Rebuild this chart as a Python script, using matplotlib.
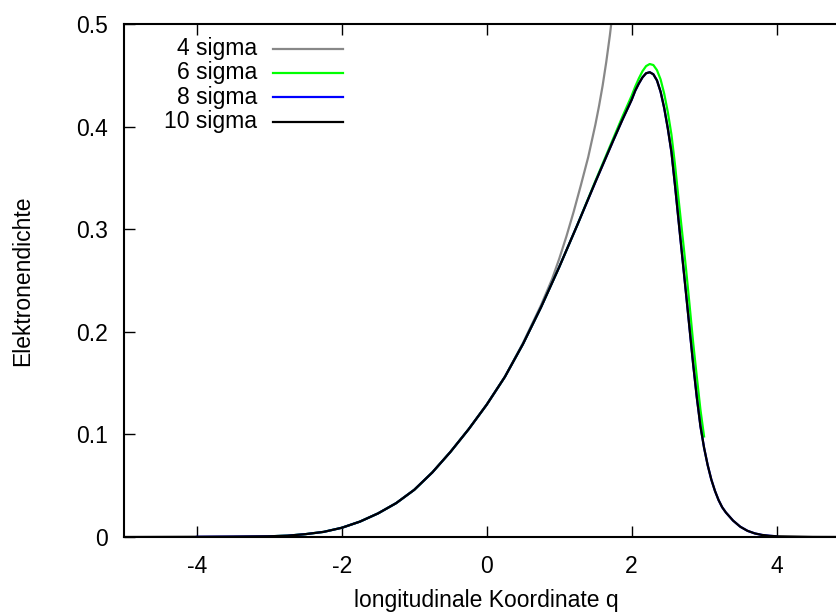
import numpy as np
import matplotlib
matplotlib.use("Agg")
import matplotlib.pyplot as plt

plt.rcParams['font.family'] = ['Liberation Sans', 'DejaVu Sans']
plt.rcParams['axes.unicode_minus'] = False

# Elektronendichte fuer verschiedene Abschneideradien (in sigma)
q_10 = [-5.0, -4.5, -4.0, -3.5, -3.0, -2.75, -2.5, -2.25, -2.0, -1.75, -1.5, -1.25,
        -1.0, -0.75, -0.5, -0.25, 0.0, 0.25, 0.5, 0.75, 1.0, 1.25, 1.5, 1.75,
        1.875, 2.0, 2.05, 2.1, 2.15, 2.2, 2.25, 2.3, 2.35, 2.4, 2.45, 2.5, 2.55,
        2.6, 2.65, 2.75, 2.85, 2.9, 2.95, 3.0, 3.05, 3.1, 3.15, 3.2, 3.25, 3.3,
        3.4, 3.5, 3.6, 3.7, 3.8, 3.9, 4.0, 4.5, 5.0]
rho_10 = [0.0, 0.0001, 0.0002, 0.0004, 0.0007, 0.0013, 0.0028, 0.005, 0.009, 0.015,
          0.023, 0.033, 0.046, 0.063, 0.083, 0.105, 0.129, 0.156, 0.188, 0.224,
          0.263, 0.304, 0.346, 0.387, 0.407, 0.426, 0.435, 0.442, 0.448, 0.452,
          0.453, 0.451, 0.445, 0.434, 0.418, 0.398, 0.375, 0.342, 0.307, 0.238,
          0.168, 0.136, 0.108, 0.087, 0.070, 0.056, 0.045, 0.036, 0.029, 0.024,
          0.016, 0.010, 0.006, 0.0035, 0.002, 0.0012, 0.0007, 0.0001, 0.0]

q_8 = [-4.0, -3.5, -3.0, -2.75, -2.5, -2.25, -2.0, -1.75, -1.5, -1.25,
       -1.0, -0.75, -0.5, -0.25, 0.0, 0.25, 0.5, 0.75, 1.0, 1.25, 1.5, 1.75,
       1.875, 2.0, 2.05, 2.1, 2.15, 2.2, 2.25, 2.3, 2.35, 2.4, 2.45, 2.5, 2.55,
       2.6, 2.65, 2.75, 2.85, 2.9, 2.95, 3.0, 3.05, 3.1, 3.15, 3.2, 3.25, 3.3,
       3.4, 3.5, 3.6, 3.7, 3.8, 3.9, 4.0]
rho_8 = [0.0002, 0.0004, 0.0007, 0.0013, 0.0028, 0.005, 0.009, 0.015,
         0.023, 0.033, 0.046, 0.063, 0.083, 0.105, 0.129, 0.156, 0.188, 0.224,
         0.263, 0.304, 0.346, 0.387, 0.407, 0.426, 0.435, 0.442, 0.448, 0.452,
         0.453, 0.451, 0.445, 0.434, 0.418, 0.398, 0.375, 0.342, 0.307, 0.238,
         0.168, 0.136, 0.108, 0.087, 0.070, 0.056, 0.045, 0.036, 0.029, 0.024,
         0.016, 0.010, 0.006, 0.0035, 0.002, 0.0012, 0.0007]

q_6 = [-3.0, -2.75, -2.5, -2.25, -2.0, -1.75, -1.5, -1.25, -1.0, -0.75, -0.5,
       -0.25, 0.0, 0.25, 0.5, 0.75, 1.0, 1.25, 1.5, 1.75, 1.875, 2.0, 2.05, 2.1,
       2.15, 2.2, 2.25, 2.3, 2.35, 2.4, 2.45, 2.5, 2.55, 2.6, 2.65, 2.7, 2.75,
       2.8, 2.85, 2.9, 2.95, 3.0]
rho_6 = [0.0007, 0.0013, 0.0028, 0.005, 0.009, 0.015, 0.023, 0.033, 0.046, 0.063,
         0.083, 0.105, 0.129, 0.156, 0.188, 0.224, 0.263, 0.304, 0.347, 0.389,
         0.410, 0.430, 0.439, 0.447, 0.454, 0.459, 0.461, 0.460, 0.455, 0.446,
         0.432, 0.414, 0.392, 0.362, 0.328, 0.295, 0.262, 0.226, 0.189, 0.156,
         0.124, 0.098]

q_4 = [-2.0, -1.75, -1.5, -1.25, -1.0, -0.75, -0.5, -0.25, 0.0, 0.25, 0.5,
       0.75, 0.9, 1.0, 1.1, 1.2, 1.3, 1.4, 1.5, 1.55, 1.6, 1.65, 1.7, 1.75, 1.8]
rho_4 = [0.009, 0.015, 0.023, 0.033, 0.046, 0.063, 0.083, 0.105, 0.129, 0.156,
         0.189, 0.226, 0.251, 0.271, 0.293, 0.317, 0.343, 0.370, 0.402, 0.420,
         0.440, 0.463, 0.489, 0.519, 0.553]

labels = ['4 sigma', '6 sigma', '8 sigma', '10 sigma']
colors = ['#888888', '#00ff00', '#0000ff', '#000000']
fs = 16.5

fig = plt.figure(figsize=(8.37, 6.14), dpi=100)
ax = fig.add_axes([0.1487, 0.1254, 0.8656, 0.8355])

curves = [(q_4, rho_4), (q_6, rho_6), (q_8, rho_8), (q_10, rho_10)]
for (q, rho), c in zip(curves, colors):
    ax.plot(q, rho, color=c, lw=1.6, solid_joinstyle='round')

ax.set_xlim(-5, 5)
ax.set_ylim(0, 0.5)
ax.set_xticks([-4, -2, 0, 2, 4])
ax.set_xticklabels(['-4', '-2', '0', '2', '4'])
ax.set_yticks([0, 0.1, 0.2, 0.3, 0.4, 0.5])
ax.set_yticklabels(['0', '0.1', '0.2', '0.3', '0.4', '0.5'])
ax.tick_params(direction='in', length=8, width=1, labelsize=fs, pad=12,
               top=True, right=True)
ax.tick_params(axis='x', pad=13)
for s in ax.spines.values():
    s.set_linewidth(1.5)

ax.set_xlabel('longitudinale Koordinate q', fontsize=fs, labelpad=8)
ax.set_ylabel('Elektronendichte', fontsize=fs, labelpad=30)

# Legende im gnuplot-Stil: Text rechtsbuendig, Linie rechts daneben
for i, (lab, c) in enumerate(zip(labels, colors)):
    y = 0.952 - i * 0.0475
    ax.plot([0.205, 0.3016], [y, y], color=c, lw=1.6, transform=ax.transAxes)
    ax.text(0.183, y, lab, ha='right', va='center', fontsize=fs,
            transform=ax.transAxes)

fig.savefig('out.png', dpi=100)
